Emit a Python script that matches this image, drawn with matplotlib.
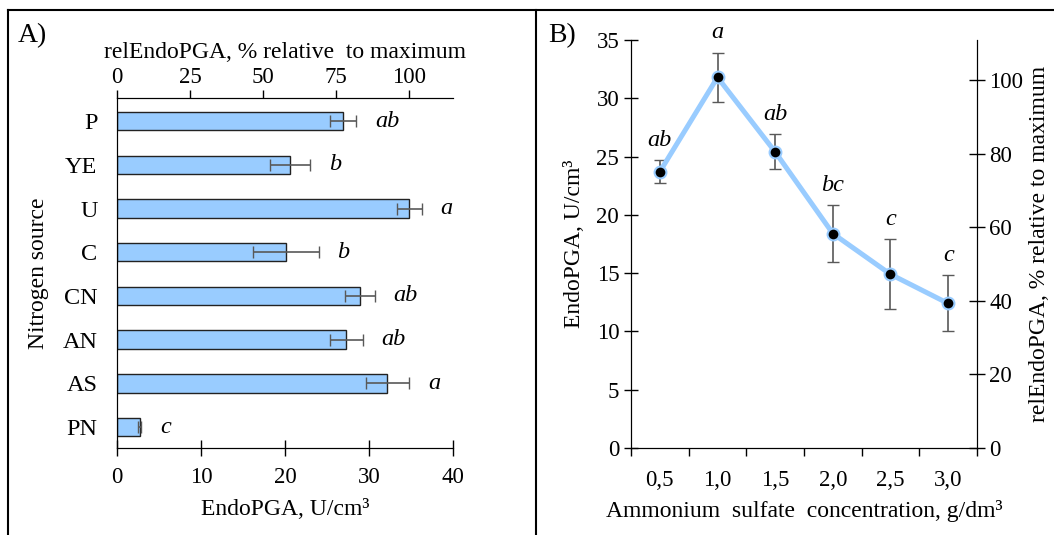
import numpy as np
import matplotlib
matplotlib.use("Agg")
import matplotlib.pyplot as plt
from matplotlib.lines import Line2D

plt.rcParams['font.family'] = ['Liberation Serif', 'DejaVu Serif']
plt.rcParams['font.size'] = 16.5

# panel A: nitrogen sources (top to bottom)
sources = ['P', 'YE', 'U', 'C', 'CN', 'AN', 'AS', 'PN']
endo_a = [26.9, 20.6, 34.8, 20.1, 28.9, 27.3, 32.2, 2.7]
err_a = [1.6, 2.4, 1.5, 3.9, 1.8, 2.0, 2.6, 0.2]
letters_a = ['ab', 'b', 'a', 'b', 'ab', 'ab', 'a', 'c']

# panel B: ammonium sulfate concentration
conc = ['0,5', '1,0', '1,5', '2,0', '2,5', '3,0']
endo_b = [23.7, 31.8, 25.4, 18.4, 14.9, 12.4]
err_b = [1.0, 2.1, 1.5, 2.45, 3.0, 2.4]
letters_b = ['ab', 'a', 'ab', 'bc', 'c', 'c']

W, H = 1054, 535
fig = plt.figure(figsize=(W / 100, H / 100), dpi=100)

blue = '#99CCFF'
grey = '#595959'
lab = 17

# ---- panel A
ax1 = fig.add_axes([117 / W, 87 / H, 336 / W, 350 / H])
ypos = np.arange(len(sources))[::-1]
ax1.barh(ypos, endo_a, height=0.42, color=blue, edgecolor='#222222', lw=1)
ax1.errorbar(endo_a, ypos, xerr=err_a, fmt='none', ecolor=grey, elinewidth=1.2, capsize=4.5)
for y, v, e, l in zip(ypos, endo_a, err_a, letters_a):
    ax1.text(v + e + 2.2, y, l, style='italic', ha='left', va='center', fontsize=17.5)
ax1.set_xlim(0, 40)
ax1.set_ylim(-0.48, 7.53)
ax1.set_xticks([0, 10, 20, 30, 40])
ax1.set_yticks(ypos)
ax1.set_yticklabels(sources, fontsize=17.5)
ax1.tick_params(axis='y', length=0, pad=14)
ax1.tick_params(axis='x', direction='inout', length=11, width=1, pad=8)
ax1.spines['right'].set_visible(False)
for s in ['left', 'top', 'bottom']:
    ax1.spines[s].set_color('#222222')
ax1.set_xlabel('EndoPGA, U/cm³', fontsize=lab, labelpad=8)
ax1.set_ylabel('Nitrogen source', fontsize=lab, labelpad=10)

top = ax1.twiny()
top.set_xlim(0, 40 / max(endo_a) * 100)
top.set_xticks([0, 25, 50, 75, 100])
top.tick_params(axis='x', direction='out', length=6, width=1, pad=1)
top.spines['right'].set_visible(False)
top.set_xlabel('relEndoPGA, % relative  to maximum', fontsize=lab, labelpad=7)

# ---- panel B
ax2 = fig.add_axes([631 / W, 87 / H, 346 / W, 408 / H])
xpos = np.arange(len(conc)) + 0.5
ax2.errorbar(xpos, endo_b, yerr=err_b, fmt='none', ecolor=grey, elinewidth=1.2, capsize=4.5, zorder=2)
ax2.plot(xpos, endo_b, color=blue, lw=3.6, zorder=3)
ax2.plot(xpos, endo_b, 'o', color='black', ms=8.5, mec=blue, mew=1.5, zorder=4)
for x, v, e, l in zip(xpos, endo_b, err_b, letters_b):
    ax2.text(x, v + e + 0.8, l, style='italic', ha='center', va='bottom', fontsize=17.5)
ax2.set_xlim(0, 6)
ax2.set_ylim(0, 35)
ax2.set_xticks(np.arange(7))
ax2.set_xticklabels([])
ax2.set_xticks(xpos, minor=True)
ax2.set_xticklabels(conc, minor=True)
ax2.tick_params(axis='x', which='major', direction='out', length=6, width=1)
ax2.tick_params(axis='x', which='minor', length=0, pad=16)
ax2.set_yticks(np.arange(0, 36, 5))
ax2.tick_params(axis='y', direction='inout', length=10, width=1)
ax2.spines['top'].set_visible(False)
ax2.set_xlabel('Ammonium  sulfate  concentration, g/dm³', fontsize=lab, labelpad=6)
ax2.set_ylabel('EndoPGA, U/cm³', fontsize=lab, labelpad=8)

right = ax2.twinx()
right.set_ylim(0, 35 / max(endo_b) * 100 * 1.008)
right.set_yticks([0, 20, 40, 60, 80, 100])
right.tick_params(axis='y', direction='inout', length=11, width=1)
right.spines['top'].set_visible(False)
right.set_ylabel('relEndoPGA, % relative to maximum', fontsize=lab, labelpad=4)

# panel labels and frame lines
fig.text(18 / W, 1 - 36 / H, 'A)', fontsize=20, va='center')
fig.text(548 / W, 1 - 36 / H, 'B)', fontsize=20, va='center')
fig.add_artist(Line2D([8 / W, 1], [1 - 10 / H] * 2, color='black', lw=1.5))
fig.add_artist(Line2D([8 / W] * 2, [0, 1 - 10 / H], color='black', lw=1.5))
fig.add_artist(Line2D([536 / W] * 2, [0, 1 - 10 / H], color='black', lw=1.5))

fig.savefig('out.png', dpi=100)
